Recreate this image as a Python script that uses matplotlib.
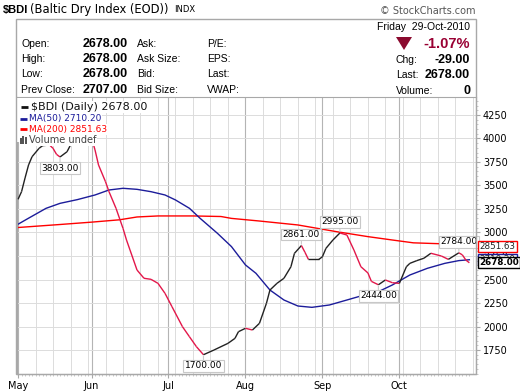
import numpy as np
import matplotlib
matplotlib.use('Agg')
import matplotlib.pyplot as plt
from matplotlib.collections import LineCollection
from matplotlib.patches import Rectangle, Polygon

# $BDI daily close
price_dates = ['2010-05-03', '2010-05-04', '2010-05-05', '2010-05-06', '2010-05-07', '2010-05-11',
               '2010-05-12', '2010-05-14', '2010-05-17', '2010-05-18', '2010-05-19', '2010-05-21',
               '2010-05-24', '2010-05-25', '2010-05-26', '2010-05-27', '2010-05-28', '2010-05-31',
               '2010-06-01', '2010-06-02', '2010-06-03', '2010-06-07', '2010-06-08', '2010-06-10',
               '2010-06-14', '2010-06-15', '2010-06-16', '2010-06-18', '2010-06-22', '2010-06-24',
               '2010-06-28', '2010-06-30', '2010-07-02', '2010-07-07', '2010-07-09', '2010-07-13',
               '2010-07-15', '2010-07-20', '2010-07-26', '2010-07-28', '2010-07-29', '2010-08-02',
               '2010-08-04', '2010-08-06', '2010-08-10', '2010-08-11', '2010-08-13', '2010-08-17',
               '2010-08-19', '2010-08-20', '2010-08-24', '2010-08-25', '2010-08-26', '2010-08-31',
               '2010-09-01', '2010-09-02', '2010-09-06', '2010-09-08', '2010-09-10', '2010-09-14',
               '2010-09-16', '2010-09-20', '2010-09-21', '2010-09-23', '2010-09-27', '2010-09-29',
               '2010-10-01', '2010-10-05', '2010-10-06', '2010-10-08', '2010-10-12', '2010-10-14',
               '2010-10-19', '2010-10-21', '2010-10-26', '2010-10-27', '2010-10-28', '2010-10-29']
price_vals = [3353, 3434, 3580, 3718, 3806, 3895,
              3923, 3931, 3895, 3831, 3803, 3859,
              3931, 4040, 4140, 4150, 4110, 4060,
              4009, 3878, 3718, 3540, 3434, 3257,
              3044, 2920, 2814, 2601, 2513, 2502,
              2459, 2353, 2211, 1998, 1891, 1785,
              1700, 1750, 1821, 1874, 1945, 1981,
              1963, 2034, 2247, 2388, 2459, 2513,
              2636, 2778, 2861, 2790, 2714, 2714,
              2742, 2831, 2920, 2995, 2973, 2814,
              2636, 2570, 2480, 2444, 2495, 2466,
              2459, 2636, 2672, 2701, 2726, 2779,
              2750, 2714, 2784, 2762, 2707, 2678]

ma50_dates = ['2010-05-03', '2010-05-06', '2010-05-13', '2010-05-19', '2010-05-26', '2010-06-02',
              '2010-06-08', '2010-06-14', '2010-06-18', '2010-06-24', '2010-06-30', '2010-07-05',
              '2010-07-09', '2010-07-14', '2010-07-21', '2010-07-27', '2010-08-02', '2010-08-05',
              '2010-08-11', '2010-08-17', '2010-08-23', '2010-08-27', '2010-09-03', '2010-09-10',
              '2010-09-16', '2010-09-22', '2010-09-29', '2010-10-06', '2010-10-13', '2010-10-20',
              '2010-10-26', '2010-10-29']
ma50_vals = [3088, 3152, 3257, 3310, 3350, 3399,
             3452, 3470, 3459, 3434, 3399, 3346,
             3257, 3152, 2991, 2850, 2655, 2566,
             2388, 2282, 2218, 2204, 2229, 2282,
             2325, 2353, 2442, 2548, 2619, 2672,
             2701, 2710.20]

ma200_dates = ['2010-05-03', '2010-05-19', '2010-06-01', '2010-06-11', '2010-06-18', '2010-06-28',
               '2010-07-12', '2010-07-22', '2010-07-27', '2010-08-06', '2010-08-23', '2010-09-07',
               '2010-09-20', '2010-09-29', '2010-10-07', '2010-10-19', '2010-10-29']
ma200_vals = [3053, 3085, 3110, 3135, 3165, 3176,
              3176, 3170, 3150, 3122, 3080, 3009,
              2956, 2920, 2890, 2880, 2851.63]

months = ['May', 'Jun', 'Jul', 'Aug', 'Sep', 'Oct']
month_starts = ['2010-05-03', '2010-06-01', '2010-07-01', '2010-08-02', '2010-09-01', '2010-10-01']
y_ticks = [1750, 2000, 2250, 2500, 2750, 3000, 3250, 3500, 3750, 4000, 4250]

# labelled extremes: (date, above/below)
marks = [('2010-05-19', -1), ('2010-07-15', -1), ('2010-08-24', 1),
         ('2010-09-08', 1), ('2010-09-23', -1), ('2010-10-26', 1)]

START = '2010-05-03'
def bd(dates):
    return np.busday_count(START, np.array(dates, dtype='datetime64[D]'))

W, H = 520, 391
fig = plt.figure(figsize=(W / 100, H / 100), dpi=100)
fig.patch.set_facecolor('white')

def ftxt(x, y, s, **kw):
    kw.setdefault('va', 'center')
    kw.setdefault('family', 'Liberation Sans')
    fig.text(x / W, 1 - y / H, s, **kw)

# outer frame around header + chart
fig.patches.append(Rectangle((16 / W, 1 - 374 / H), 460 / W, 355 / H, transform=fig.transFigure,
                             fill=False, ec='#a8a8a8', lw=1))

# title line
ftxt(3, 10, '$BDI', fontsize=8, weight='bold')
ftxt(30, 10, '(Baltic Dry Index (EOD))', fontsize=8.3, family='DejaVu Sans')
ftxt(174, 10, 'INDX', fontsize=6, family='DejaVu Sans')
ftxt(476, 11, '\u00a9 StockCharts.com', fontsize=7, color='#555555', ha='right', family='DejaVu Sans')

# header block
rows = [44, 59, 74, 89.7]
for y, lab, val, l3, l4 in zip(rows, ['Open:', 'High:', 'Low:', 'Prev Close:'],
                               ['2678.00', '2678.00', '2678.00', '2707.00'],
                               ['Ask:', 'Ask Size:', 'Bid:', 'Bid Size:'],
                               ['P/E:', 'EPS:', 'Last:', 'VWAP:']):
    ftxt(21, y, lab, fontsize=7.5)
    ftxt(128, y, val, fontsize=9, weight='bold', ha='right')
    ftxt(137, y, l3, fontsize=7.5)
    ftxt(207, y, l4, fontsize=7.5)

ftxt(470, 27, 'Friday  29-Oct-2010', fontsize=7.5, ha='right')
ftxt(470, 43.5, '-1.07%', fontsize=10.5, weight='bold', ha='right', color='#990033')
fig.patches.append(Polygon([(396 / W, 1 - 37 / H), (412 / W, 1 - 37 / H), (404 / W, 1 - 50 / H)],
                           closed=True, transform=fig.transFigure, fc='#8b0a2f', ec='none'))
for y, lab, val in zip([60, 75.5, 91], ['Chg:', 'Last:', 'Volume:'], ['-29.00', '2678.00', '0']):
    ftxt(396, y, lab, fontsize=7.5)
    ftxt(470, y, val, fontsize=9, weight='bold', ha='right')

# chart axes
ax = fig.add_axes([17 / W, 17 / H, 459 / W, 277 / H])
x_p = bd(price_dates)
y_p = np.array(price_vals, dtype=float)
x50 = bd(ma50_dates)
x200 = bd(ma200_dates)
ax.set_xlim(-0.3, 130.9)
ax.set_ylim(1495, 4441)

# grid: weekly light lines, monthly darker
last_day = 129
for d in range(0, last_day + 2, 5):
    ax.axvline(d, color='#dcdcdc', lw=0.7, zorder=0)
for d in bd(month_starts):
    ax.axvline(d, color='#b4b4b4', lw=0.8, zorder=0)
for v in y_ticks:
    ax.axhline(v, color='#dcdcdc', lw=0.7, zorder=0)

ax.plot(x200, ma200_vals, color='#ff0000', lw=1.0, zorder=2)
ax.plot(x50, ma50_vals, color='#1c1c9a', lw=1.0, zorder=2)

# price: black when rising, red when falling
pts = np.column_stack([x_p, y_p])
segs = np.stack([pts[:-1], pts[1:]], axis=1)
cols = ['#222222' if b >= a else '#e3174a' for a, b in zip(y_p[:-1], y_p[1:])]
ax.add_collection(LineCollection(segs, colors=cols, linewidths=1.0, zorder=3))

# labelled extremes
mx = bd([m[0] for m in marks])
for (d, side), xd in zip(marks, mx):
    v = y_p[list(x_p).index(xd)]
    ax.annotate(f'{v:.2f}', xy=(xd, v), xytext=(0, 8 * side), textcoords='offset points',
                ha='center', va='center', fontsize=6.5, family='DejaVu Sans', zorder=6,
                bbox=dict(boxstyle='square,pad=0.15', fc='white', ec='#c8c8c8', lw=0.8),
                arrowprops=dict(arrowstyle='-', color='#cccccc', lw=0.8, shrinkA=0, shrinkB=1))

# legend block (opaque, hides line behind it)
legend = [('$BDI (Daily) %.2f' % y_p[-1], '#111111', '#111111', 8, 0.964),
          ('MA(50) %.2f' % ma50_vals[-1], '#1c1c9a', '#1c1c9a', 6.5, 0.922),
          ('MA(200) %.2f' % ma200_vals[-1], '#ff0000', '#ff0000', 6.5, 0.884),
          ('Volume undef', '#444444', None, 7, 0.845)]
ax.add_patch(Rectangle((0, 0.838), 0.163, 0.16, transform=ax.transAxes, fc='white', ec='none', zorder=4))
for k, (txt, tc, lc, fs, yy) in enumerate(legend):
    xt = 0.031 if k == 0 else 0.026
    ax.text(xt, yy, txt, transform=ax.transAxes, fontsize=fs, color=tc, va='center',
            family='DejaVu Sans', zorder=5,
            bbox=dict(boxstyle='square,pad=0.12', fc='white', ec='none'))
    if lc:
        x0 = 0.006 if k else 0.008
        ax.plot([x0, x0 + 0.016], [yy, yy], transform=ax.transAxes, color=lc, lw=2, zorder=5,
                solid_capstyle='butt')
    else:
        for j, h in enumerate([0.022, 0.032, 0.026]):
            ax.add_patch(Rectangle((0.006 + j * 0.0055, yy - 0.016), 0.004, h,
                                   transform=ax.transAxes, fc='#555555', ec='none', zorder=6))

# right-edge value tags
for val, ec, wt in [(ma200_vals[-1], '#ff0000', 'normal'), (ma50_vals[-1], '#1c1c9a', 'normal'),
                    (y_p[-1], '#000000', 'bold')]:
    ax.annotate(f'{val:.2f}', xy=(1, val), xycoords=('axes fraction', 'data'),
                xytext=(2.5, 0), textcoords='offset points', ha='left', va='center',
                fontsize=6.3, weight=wt, family='DejaVu Sans',
                color='#000000' if wt == 'bold' else '#222222', annotation_clip=False, zorder=8,
                bbox=dict(boxstyle='square,pad=0.12', fc='white', ec=ec, lw=1))

# axes styling
for s in ax.spines.values():
    s.set_color('#a8a8a8')
ax.yaxis.tick_right()
ax.set_yticks(y_ticks)
ax.set_yticklabels([str(v) for v in y_ticks], fontsize=7, family='DejaVu Sans')
ax.set_yticks(np.arange(1500, 4441, 50), minor=True)
ax.set_xticks(bd(month_starts))
ax.set_xticklabels(months, fontsize=7, family='DejaVu Sans')
ax.set_xticks(np.arange(0, last_day + 1), minor=True)
ax.tick_params(axis='both', which='major', length=3, color='#a8a8a8', pad=2)
ax.tick_params(axis='both', which='minor', length=1.5, color='#c0c0c0')
ax.set_facecolor('white')

fig.savefig('out.png', dpi=100)
